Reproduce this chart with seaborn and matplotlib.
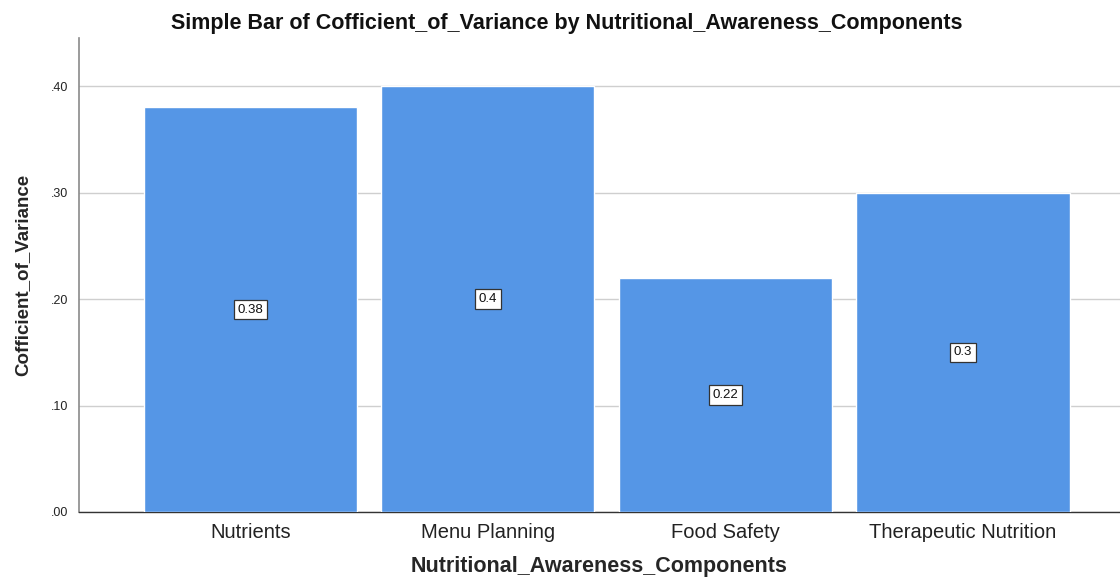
import matplotlib
matplotlib.use("Agg")
import matplotlib.pyplot as plt
import seaborn as sns
import pandas as pd
from matplotlib.ticker import FuncFormatter

components = ["Nutrients", "Menu Planning", "Food Safety", "Therapeutic Nutrition"]
cv_values = [0.38, 0.40, 0.22, 0.30]
value_labels = ["0.38", "0.4", "0.22", "0.3"]

df = pd.DataFrame({"Nutritional_Awareness_Components": components,
                   "Cofficient_of_Variance": cv_values})

sns.set_style("white")
plt.rcParams["font.family"] = ["Liberation Sans", "DejaVu Sans"]

fig = plt.figure(figsize=(11.2, 5.78), dpi=100)
ax = fig.add_axes([0.0705, 0.1142, 0.9295, 0.8198])

sns.barplot(data=df, x="Nutritional_Awareness_Components", y="Cofficient_of_Variance",
            color="#5596E6", saturation=1, width=0.897, ax=ax, zorder=3)

ax.set_ylim(0, 0.445)
ax.set_xlim(-0.722, 3.661)
ax.set_yticks([0.0, 0.1, 0.2, 0.3, 0.4])
ax.yaxis.set_major_formatter(FuncFormatter(lambda v, _: f"{v:.2f}".lstrip("0")))
ax.grid(axis="y", color="#cfcfcf", linewidth=1.0, zorder=0)
ax.set_axisbelow(True)

for side in ["top", "right"]:
    ax.spines[side].set_visible(False)
ax.spines["left"].set_color("#8a8a8a")
ax.spines["left"].set_linewidth(1.2)
ax.spines["bottom"].set_color("#333333")
ax.spines["bottom"].set_linewidth(1.0)

ax.tick_params(axis="y", labelsize=9, length=0, pad=8, colors="#222222")
ax.tick_params(axis="x", labelsize=14.5, length=0, pad=8, colors="#222222")

ax.set_xlabel("Nutritional_Awareness_Components", fontsize=15.5, fontweight="bold", labelpad=10)
ax.set_ylabel("Cofficient_of_Variance", fontsize=13.5, fontweight="bold", labelpad=14)
fig.text(567 / 1120, 1 - 23 / 578,
         "Simple Bar of Cofficient_of_Variance by Nutritional_Awareness_Components",
         ha="center", va="center", fontsize=15.5, fontweight="bold", color="#111111")

for i, (v, lab) in enumerate(zip(cv_values, value_labels)):
    ax.text(i, v / 2, lab, ha="center", va="center", fontsize=9.5, color="#111111", zorder=5,
            bbox=dict(boxstyle="square,pad=0.28", facecolor="white", edgecolor="#333333", linewidth=0.9))

fig.savefig("out.png", dpi=100)
